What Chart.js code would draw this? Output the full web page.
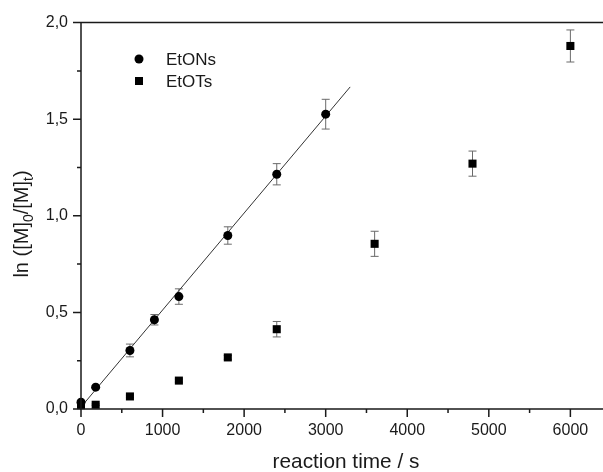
<!DOCTYPE html>
<html>
<head>
<meta charset="utf-8">
<script src="https://cdn.jsdelivr.net/npm/chart.js@4.4.0/dist/chart.umd.min.js"></script>
<style>
  html, body { margin: 0; padding: 0; background: #fff; }
  #wrap { width: 603px; height: 472px; }
</style>
</head>
<body>
<div id="wrap"><canvas id="chart" width="603" height="472"></canvas></div>
<script>
// data
const etonsTime = [0, 180, 600, 900, 1200, 1800, 2400, 3000];
const etonsLn   = [0.035, 0.113, 0.303, 0.462, 0.582, 0.898, 1.215, 1.526];
const etonsErr  = [0, 0.006, 0.033, 0.027, 0.04, 0.045, 0.055, 0.077];

const etotsTime = [0, 180, 600, 1200, 1800, 2400, 3600, 4800, 6000];
const etotsLn   = [0.02, 0.022, 0.065, 0.147, 0.267, 0.413, 0.855, 1.27, 1.879];
const etotsErr  = [0, 0.004, 0.006, 0.008, 0.01, 0.04, 0.065, 0.065, 0.083];

// linear fit of EtONs
const fitTime = [0, 3300];
const fitLn   = [0.01, 1.667];

const xTicks = [0, 1000, 2000, 3000, 4000, 5000, 6000];
const xMinor = [500, 1500, 2500, 3500, 4500, 5500];
const yTicks = [0, 0.5, 1.0, 1.5, 2.0];
const yMinor = [0.25, 0.75, 1.25, 1.75];

const ink = '#1a1a1a';
const font = 'Arial, "Liberation Sans", sans-serif';

function pts(xs, ys) {
    return xs.map((x, i) => ({x: x, y: ys[i]}))
}

// error bars under the markers
const errorBars = {
    id: 'errorBars',
    beforeDatasetsDraw(chart) {
        const ctx = chart.ctx;
        const xs = chart.scales.x, ys = chart.scales.y;
        ctx.save();
        ctx.strokeStyle = '#6a6a6a';
        ctx.lineWidth = 1;
        chart.data.datasets.forEach(ds => {
            if (!ds.errors) return;
            ds.data.forEach((p, i) => {
                const e = ds.errors[i];
                if (!e) return;
                const px = xs.getPixelForValue(p.x);
                const top = ys.getPixelForValue(p.y + e);
                const bot = ys.getPixelForValue(p.y - e);
                ctx.beginPath();
                ctx.moveTo(px, top); ctx.lineTo(px, bot);
                ctx.moveTo(px - 4, top); ctx.lineTo(px + 4, top);
                ctx.moveTo(px - 4, bot); ctx.lineTo(px + 4, bot);
                ctx.stroke();
            });
        });
        ctx.restore();
    }
};

// frame, tick marks, titles and legend
const frame = {
    id: 'frame',
    afterDraw(chart) {
        const ctx = chart.ctx;
        const a = chart.chartArea;
        const xs = chart.scales.x, ys = chart.scales.y;
        ctx.save();
        ctx.strokeStyle = ink;
        ctx.lineWidth = 1.5;
        ctx.beginPath();
        ctx.moveTo(a.left, a.top); ctx.lineTo(a.right, a.top);
        ctx.moveTo(a.left, a.top); ctx.lineTo(a.left, a.bottom);
        ctx.lineTo(a.right, a.bottom);
        ctx.stroke();

        ctx.beginPath();
        xTicks.forEach(v => {
            const px = xs.getPixelForValue(v);
            ctx.moveTo(px, a.bottom); ctx.lineTo(px, a.bottom + 8);
        });
        xMinor.forEach(v => {
            const px = xs.getPixelForValue(v);
            ctx.moveTo(px, a.bottom); ctx.lineTo(px, a.bottom + 4);
        });
        yTicks.forEach(v => {
            const py = ys.getPixelForValue(v);
            ctx.moveTo(a.left, py); ctx.lineTo(a.left - 8, py);
        });
        yMinor.forEach(v => {
            const py = ys.getPixelForValue(v);
            ctx.moveTo(a.left, py); ctx.lineTo(a.left - 4, py);
        });
        ctx.stroke();

        // x title
        ctx.fillStyle = ink;
        ctx.font = '20.8px ' + font;
        ctx.textAlign = 'center';
        ctx.textBaseline = 'alphabetic';
        ctx.fillText('reaction time / s', 346, 468);

        // y title with subscripts
        const parts = [['ln ([M]', 20, 0], ['0', 14, 5], ['/[M]', 20, 0], ['t', 14, 5], [')', 20, 0]];
        let w = 0;
        parts.forEach(p => { ctx.font = p[1] + 'px ' + font; w += ctx.measureText(p[0]).width; });
        ctx.translate(28, 224);
        ctx.rotate(-Math.PI / 2);
        ctx.textAlign = 'left';
        let cx = -w / 2;
        parts.forEach(p => {
            ctx.font = p[1] + 'px ' + font;
            ctx.fillText(p[0], cx, p[2]);
            cx += ctx.measureText(p[0]).width;
        });
        ctx.restore();

        // legend
        ctx.save();
        ctx.fillStyle = '#000';
        ctx.font = '17px ' + font;
        ctx.textBaseline = 'middle';
        ctx.textAlign = 'left';
        const lx = 139, ly = 59;
        ctx.beginPath();
        ctx.arc(lx, ly, 4.5, 0, Math.PI * 2);
        ctx.fill();
        ctx.fillRect(lx - 4, ly + 22 - 4, 8, 8);
        ctx.fillStyle = ink;
        ctx.fillText(chart.data.datasets[0].label, 166, ly + 1);
        ctx.fillText(chart.data.datasets[1].label, 166, ly + 23);
        ctx.restore();
    }
};

new Chart(document.getElementById('chart'), {
    type: 'scatter',
    data: {
        datasets: [
            {
                label: 'EtONs',
                data: pts(etonsTime, etonsLn),
                errors: etonsErr,
                pointStyle: 'circle',
                pointRadius: 4.5,
                pointBackgroundColor: '#000',
                pointBorderWidth: 0,
                clip: false,
                order: 0
            },
            {
                label: 'EtOTs',
                data: pts(etotsTime, etotsLn),
                errors: etotsErr,
                pointStyle: 'rect',
                pointRadius: 5.7,
                pointBackgroundColor: '#000',
                pointBorderWidth: 0,
                clip: false,
                order: 1
            },
            {
                label: 'fit',
                data: pts(fitTime, fitLn),
                showLine: true,
                borderColor: '#333',
                borderWidth: 1,
                pointRadius: 0,
                order: 2
            }
        ]
    },
    options: {
        responsive: false,
        animation: false,
        devicePixelRatio: 1,
        layout: {autoPadding: false, padding: {top: 20, right: 0, left: 0, bottom: 0}},
        plugins: {legend: {display: false}, tooltip: {enabled: false}},
        scales: {
            x: {
                type: 'linear',
                min: 0, max: 6400,
                afterBuildTicks: s => { s.ticks = xTicks.map(v => ({value: v})) },
                afterFit: s => { s.height = 63 },
                grid: {display: false, drawTicks: false},
                border: {display: false},
                ticks: {
                    padding: 12,
                    autoSkip: false,
                    color: ink,
                    font: {family: font, size: 16},
                    maxRotation: 0,
                    callback: v => String(v)
                }
            },
            y: {
                type: 'linear',
                min: 0, max: 2.0,
                afterBuildTicks: s => { s.ticks = yTicks.map(v => ({value: v})) },
                afterFit: s => { s.width = 81 },
                grid: {display: false, drawTicks: false},
                border: {display: false},
                ticks: {
                    padding: 13,
                    autoSkip: false,
                    color: ink,
                    font: {family: font, size: 16},
                    callback: v => v.toFixed(1).replace('.', ',')
                }
            }
        }
    },
    plugins: [errorBars, frame]
});
</script>
</body>
</html>
